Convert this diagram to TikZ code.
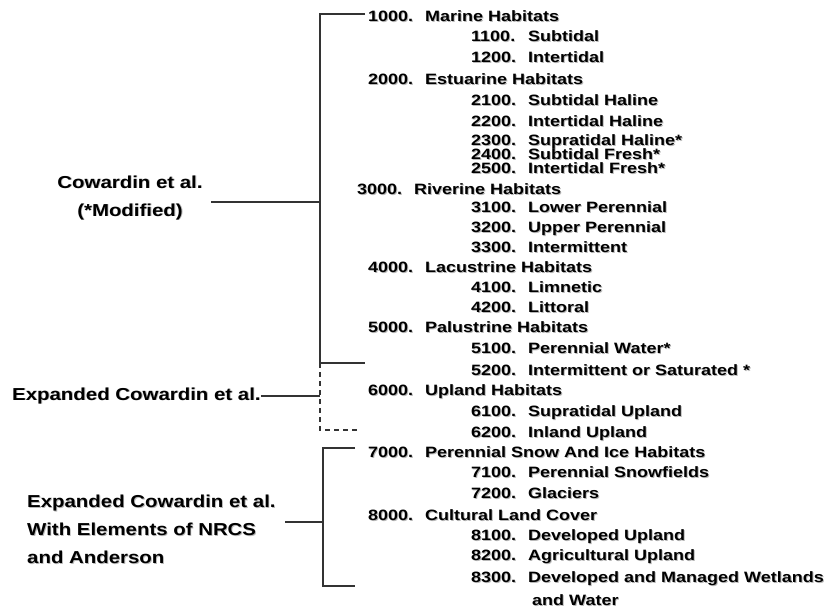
\documentclass[tikz,border=0pt]{standalone}
\usepackage{fontspec}
\usepackage{tikz}
\usetikzlibrary{positioning}
\newfontfamily\listfont{Liberation Sans}[FakeStretch=1.2]
\newfontfamily\tagfont{Liberation Sans}[FakeStretch=1.18]
% soft drop shadow behind text
\newcommand{\dropsh}[1]{\makebox[0pt][l]{\kern0.9pt\raisebox{-0.9pt}{\textcolor{black!28}{#1}}}#1}

\tikzset{
  entry/.style={anchor=west, inner sep=0pt, text height=10.5pt, text depth=0pt,
    font=\listfont\bfseries\fontsize{15}{17}\selectfont},
  tag/.style={inner sep=0pt, font=\tagfont\bfseries\fontsize{17.3}{28}\selectfont},
  brace/.style={line width=1.4pt, draw=black!80},
  dashbrace/.style={brace, dash pattern=on 5pt off 4pt}
}

\begin{document}
\begin{tikzpicture}[x=1pt,y=-1pt]
    \useasboundingbox (0,0) rectangle (826,608);

    % Habitat classes
    \foreach \code/\nx/\tx/\y/\lbl in {
        1000/368/425/16/Marine Habitats,
        1100/471/528/36/Subtidal,
        1200/471/528/57/Intertidal,
        2000/368/425/79/Estuarine Habitats,
        2100/471/528/100/Subtidal Haline,
        2200/471/528/121/Intertidal Haline,
        2300/471/528/140/Supratidal Haline*,
        2400/471/528/154/Subtidal Fresh*,
        2500/471/528/168/Intertidal Fresh*,
        3000/357/414/189/Riverine Habitats,
        3100/471/528/207/Lower Perennial,
        3200/471/528/227/Upper Perennial,
        3300/471/528/247/Intermittent,
        4000/368/425/267/Lacustrine Habitats,
        4100/471/528/287/Limnetic,
        4200/471/528/307/Littoral,
        5000/368/425/327/Palustrine Habitats,
        5100/471/528/348/Perennial Water*,
        5200/471/528/370/Intermittent or Saturated *,
        6000/368/425/390/Upland Habitats,
        6100/471/528/411/Supratidal Upland,
        6200/471/528/432/Inland Upland,
        7000/368/425/452/Perennial Snow And Ice Habitats,
        7100/471/528/472/Perennial Snowfields,
        7200/471/528/493/Glaciers,
        8000/368/425/515/Cultural Land Cover,
        8100/471/528/535/Developed Upland,
        8200/471/528/555/Agricultural Upland,
        8300/471/528/577/Developed and Managed Wetlands}
    {
        \node[entry] (n\code) at (\nx,\y) {\dropsh{\code.}};
        \node[entry] (t\code) at (\tx,\y) {\dropsh{\lbl}};
    }
    \node[entry] (t8300b) at (532,600) {\dropsh{and Water}};

    % Source labels
    \node[tag, align=center] (cow) at (130,198) {\dropsh{Cowardin et al.}\\\dropsh{(*Modified)}};
    \node[tag, anchor=west] (expd) at (12,396) {\dropsh{Expanded Cowardin et al.}};
    \node[tag, align=left, anchor=west] (nrcs) at (27,530)
        {\dropsh{Expanded Cowardin et al.}\\\dropsh{With Elements of NRCS}\\\dropsh{and Anderson}};

    % Brackets
    \coordinate (b1top) at (320,14);
    \coordinate (b1bot) at (320,363);
    \coordinate (b1end) at (320,430);
    \coordinate (b2top) at (323,448);
    \coordinate (b2bot) at (323,586);
    \coordinate (cowtip) at (211,202);
    \coordinate (nrcstip) at (285,522);

    \draw[brace] ([xshift=45pt]b1top) -- (b1top) -- (b1bot) -- ([xshift=45pt]b1bot);
    \draw[dashbrace] (b1bot) -- (b1end) -- ([xshift=38pt]b1end);
    \draw[brace] ([xshift=32pt]b2top) -- (b2top) -- (b2bot) -- ([xshift=32pt]b2bot);

    % Leaders
    \draw[brace] (cowtip) -- (cowtip -| b1top);
    \draw[brace] (expd.east) -- (expd.east -| b1top);
    \draw[brace] (nrcstip) -- (nrcstip -| b2top);
\end{tikzpicture}
\end{document}
